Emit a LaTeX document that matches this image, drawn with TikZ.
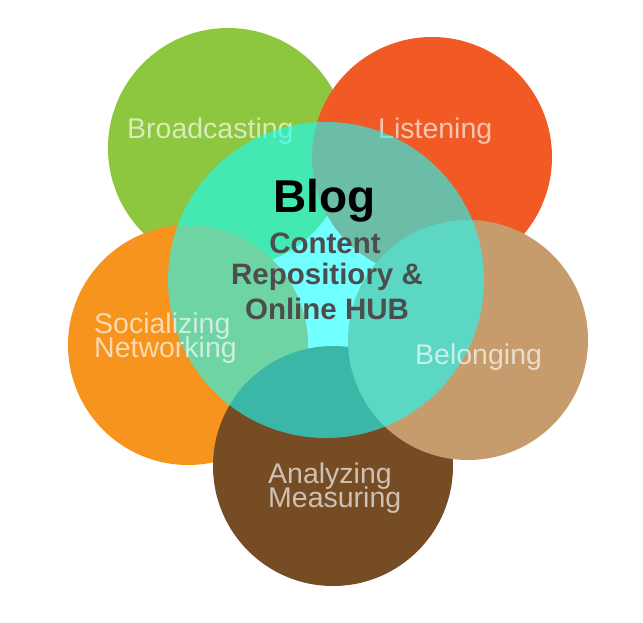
\documentclass[tikz,border=0pt]{standalone}
\usepackage{fontspec}
\setmainfont{Liberation Sans}
\definecolor{cgreen}{RGB}{141,198,63}
\definecolor{cred}{RGB}{241,90,36}
\definecolor{corange}{RGB}{247,148,29}
\definecolor{ctan}{RGB}{198,156,109}
\definecolor{cbrown}{RGB}{117,76,36}
\definecolor{ccyan}{RGB}{20,255,255}
\definecolor{cdark}{RGB}{77,77,77}
\newcommand{\tightlines}{\lineskiplimit=-30pt\relax}
\begin{document}
\begin{tikzpicture}[x=1pt,y=-1pt,
  petal/.style={circle,minimum size=240pt,inner sep=0pt,draw=none},
  hub/.style={circle,minimum size=316pt,inner sep=0pt,draw=none,fill=ccyan,fill opacity=0.6},
  lbl/.style={inner sep=0pt,text=white,text opacity=0.65,align=left,
    font=\fontsize{28.5}{24.5}\selectfont\tightlines},
  hubtxt/.style={inner sep=0pt,text=cdark,font=\bfseries\fontsize{29.5}{30}\selectfont},
  blogtxt/.style={inner sep=0pt,text=black,font=\bfseries\fontsize{46}{46}\selectfont}]
\useasboundingbox (0,0) rectangle (643,622);
\node[petal,fill=cgreen] (green) at (228,148) {};
\node[petal,fill=cred] (red) at (432,157) {};
\node[petal,fill=corange] (orange) at (188,345) {};
\node[petal,fill=cbrown] (brown) at (333,466) {};
\node[petal,fill=ctan] (tan) at (468,340) {};
\node[lbl,anchor=base west] (broad) at (127,138) {Broadcasting};
\node[lbl,anchor=base west] (listen) at (378,138) {Listening};
\node[hub] (hubc) at (326,280) {};
\node[lbl,anchor=north west] (social) at (94,312.5) {Socializing\\Networking};
\node[lbl,anchor=base west] (belong) at (415,364) {Belonging};
\node[lbl,anchor=north west] (analyz) at (268,462.5) {Analyzing\\Measuring};
\node[blogtxt,anchor=base] (blog) at (324.5,212) {Blog};
\node[hubtxt,anchor=base] (content) at (325,253) {Content};
\node[hubtxt,anchor=base] (repo) at (327,284) {Repositiory \&};
\node[hubtxt,anchor=base] (online) at (327,319) {Online HUB};
\end{tikzpicture}
\end{document}
